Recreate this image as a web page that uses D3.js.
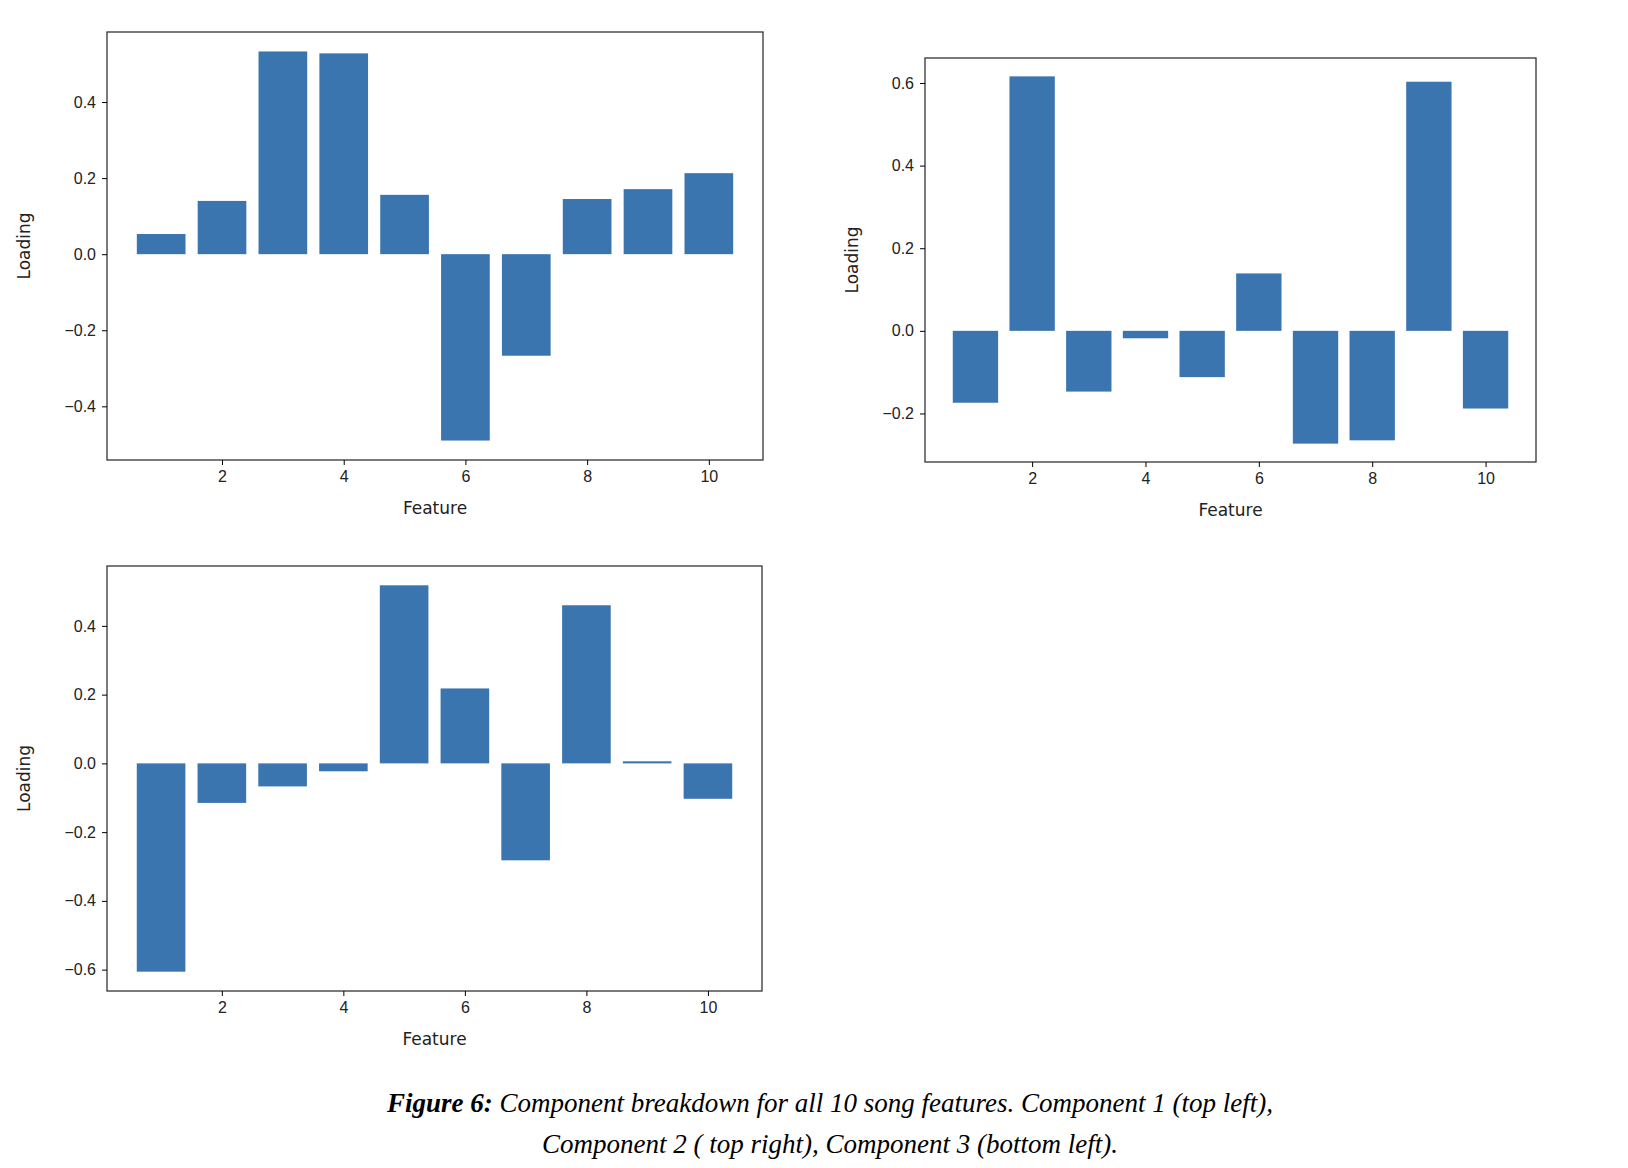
<!DOCTYPE html>
<meta charset="utf-8">
<head>
  <style>
    body { margin: 0; background: #fff; }
    svg { font-family: "DejaVu Sans", sans-serif; }
    .tick text { font-size: 16px; fill: #222; }
    .caption { font-family: "Liberation Serif", serif; font-style: italic; font-size: 27px; }
  </style>
</head>
<body>
  <script src="https://d3js.org/d3.v7.min.js"></script>
  <script>
    const features = [1, 2, 3, 4, 5, 6, 7, 8, 9, 10];
    const comp1 = [0.053, 0.14, 0.533, 0.528, 0.156, -0.49, -0.267, 0.145, 0.171, 0.213];
    const comp2 = [-0.174, 0.616, -0.147, -0.018, -0.112, 0.139, -0.273, -0.265, 0.603, -0.188];
    const comp3 = [-0.606, -0.115, -0.067, -0.023, 0.518, 0.218, -0.282, 0.46, 0.006, -0.103];
    const xTicks = [2, 4, 6, 8, 10];

    const svg = d3.select("body").append("svg")
      .attr("width", 1628).attr("height", 1168);

    const fmt = d => (d < 0 ? "\u2212" : "") + Math.abs(d).toFixed(1);

    function panel(values, box, labelX) {
      const g = svg.append("g");
      const x = d3.scaleLinear().domain([0.6 - 0.49, 10.4 + 0.49]).range([box.l, box.r]);
      const lo = Math.min(0, d3.min(values)), hi = Math.max(0, d3.max(values));
      const m = (hi - lo) * 0.05;
      const y = d3.scaleLinear().domain([lo - m, hi + m]).range([box.b, box.t]);

      g.selectAll("rect").data(values).join("rect")
        .attr("x", (d, i) => x(features[i] - 0.4))
        .attr("width", x(0.8) - x(0))
        .attr("y", d => y(Math.max(0, d)))
        .attr("height", d => Math.abs(y(d) - y(0)))
        .attr("fill", "#3a75af");

      g.append("rect")
        .attr("x", box.l).attr("y", box.t)
        .attr("width", box.r - box.l).attr("height", box.b - box.t)
        .attr("fill", "none").attr("stroke", "#333").attr("stroke-width", 1.3);

      const yt = d3.range(-0.6, 0.61, 0.2).map(v => +v.toFixed(1))
        .filter(v => v >= y.domain()[0] && v <= y.domain()[1]);

      g.append("g").attr("transform", `translate(0,${box.b})`)
        .call(d3.axisBottom(x).tickValues(xTicks).tickSize(5).tickPadding(6))
        .call(a => a.select(".domain").remove());
      g.append("g").attr("transform", `translate(${box.l},0)`)
        .call(d3.axisLeft(y).tickValues(yt).tickFormat(fmt).tickSize(5).tickPadding(6))
        .call(a => a.select(".domain").remove());

      g.append("text").attr("x", (box.l + box.r) / 2).attr("y", box.b + 54)
        .attr("text-anchor", "middle").attr("font-size", 17).attr("fill", "#222").text("Feature");
      g.append("text")
        .attr("transform", `translate(${labelX},${(box.t + box.b) / 2}) rotate(-90)`)
        .attr("text-anchor", "middle").attr("font-size", 17).attr("fill", "#222").text("Loading");
    }

    panel(comp1, {l: 107, r: 763, t: 32, b: 460}, 30);
    panel(comp2, {l: 925, r: 1536, t: 58, b: 462}, 858);
    panel(comp3, {l: 107, r: 762, t: 566, b: 991}, 30);

    const cap = svg.append("text").attr("class", "caption")
      .attr("x", 830).attr("y", 1112).attr("text-anchor", "middle");
    cap.append("tspan").attr("font-weight", "bold").text("Figure 6:");
    cap.append("tspan").text(" Component breakdown for all 10 song features. Component 1 (top left),");
    svg.append("text").attr("class", "caption")
      .attr("x", 830).attr("y", 1153).attr("text-anchor", "middle")
      .text("Component 2 ( top right), Component 3 (bottom left).");
  </script>
</body>
